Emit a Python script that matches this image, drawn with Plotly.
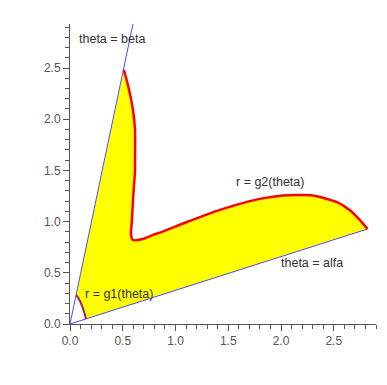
import plotly.graph_objects as go

# outer curve r = g2(theta), traced from theta=beta end to theta=alfa end
g2_x = [0.511, 0.549, 0.597, 0.616, 0.616, 0.616, 0.597, 0.587, 0.578, 0.597, 0.69, 0.786,
        0.852, 1.108, 1.42, 1.705, 1.80, 2.017, 2.30, 2.53, 2.65, 2.746, 2.82]
g2_y = [2.48, 2.334, 2.09, 1.895, 1.60, 1.50, 1.21, 1.016, 0.87, 0.82, 0.83, 0.87,
        0.893, 0.996, 1.115, 1.200, 1.222, 1.255, 1.255, 1.19, 1.113, 1.016, 0.928]

# inner curve r = g1(theta), from theta=beta end to theta=alfa end
g1_x = [0.058, 0.085, 0.11, 0.13, 0.142, 0.152]
g1_y = [0.283, 0.245, 0.186, 0.13, 0.088, 0.05]

# rays theta = alfa and theta = beta (origin -> far end)
alfa_x = [0.0, 2.82]
alfa_y = [0.0, 0.928]
beta_x = [0.0, 0.597]
beta_y = [0.0, 2.93]

labels = ["theta = beta", "r = g2(theta)", "theta = alfa", "r = g1(theta)"]
label_x = [0.40, 1.90, 2.29, 0.46]
label_y = [2.78, 1.39, 0.60, 0.29]

fig = go.Figure()

# yellow region between g1 and g2
fill_x = g2_x + g1_x[::-1]
fill_y = g2_y + g1_y[::-1]
fig.add_trace(go.Scatter(x=fill_x, y=fill_y, mode="lines", fill="toself",
                         fillcolor="#ffff00", line=dict(width=0), hoverinfo="skip"))

fig.add_trace(go.Scatter(x=alfa_x, y=alfa_y, mode="lines",
                         line=dict(color="#4a4aff", width=1)))
fig.add_trace(go.Scatter(x=beta_x, y=beta_y, mode="lines",
                         line=dict(color="#4a4aff", width=1)))
fig.add_trace(go.Scatter(x=g2_x, y=g2_y, mode="lines",
                         line=dict(color="#ff0000", width=2.5, shape="spline", smoothing=0.6)))
fig.add_trace(go.Scatter(x=g1_x, y=g1_y, mode="lines",
                         line=dict(color="#a01e5a", width=2, shape="spline")))

for t, x, y in zip(labels, label_x, label_y):
    fig.add_annotation(x=x, y=y, text=t, showarrow=False,
                       font=dict(family="Liberation Sans, Arial", size=12.5, color="#333333"))

axis_common = dict(showgrid=False, zeroline=False, showline=True, linecolor="#555555",
                   linewidth=1, ticks="outside", ticklen=6, tickcolor="#555555",
                   dtick=0.5, tick0=0, tickformat=".1f",
                   tickfont=dict(family="Liberation Sans, Arial", size=12, color="#555555"),
                   minor=dict(dtick=0.1, ticks="outside", ticklen=4, tickcolor="#555555"))

fig.update_layout(
    width=379, height=377,
    margin=dict(l=62, r=11, t=16, b=61),
    paper_bgcolor="white", plot_bgcolor="white",
    showlegend=False,
    xaxis=dict(range=[0, 2.9], **axis_common),
    yaxis=dict(range=[0, 2.93], **axis_common),
)

fig.write_html("out.html")
